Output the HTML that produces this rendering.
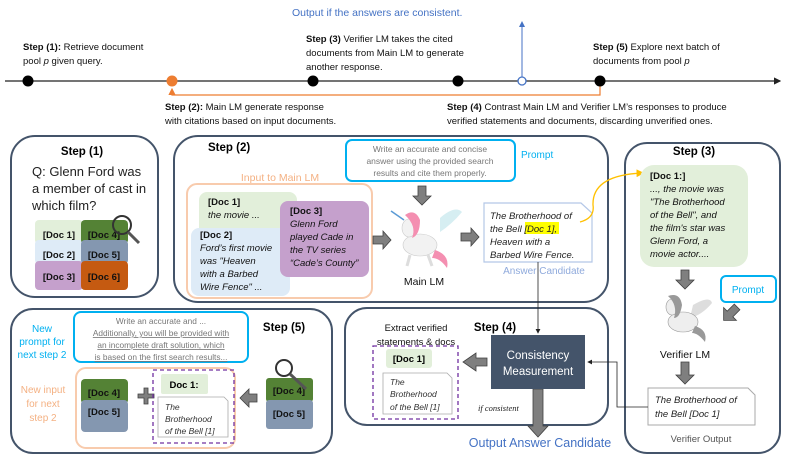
<!DOCTYPE html>
<html><head><meta charset="utf-8"><style>
html,body{margin:0;padding:0;background:#fff;}
svg{display:block;font-family:"Liberation Sans",sans-serif;}
.b{font-weight:bold}
.i{font-style:italic}
</style></head><body>
<svg width="789" height="461" viewBox="0 0 789 461" xmlns="http://www.w3.org/2000/svg">
<defs>
<marker id="ak" markerWidth="6" markerHeight="6" refX="5" refY="3" orient="auto"><path d="M0,0 L6,3 L0,6 z" fill="#222"/></marker>
<marker id="ab" markerWidth="6" markerHeight="6" refX="5" refY="3" orient="auto"><path d="M0,0 L6,3 L0,6 z" fill="#4472c4"/></marker>
<marker id="ao" markerWidth="6" markerHeight="6" refX="5" refY="3" orient="auto"><path d="M0,0 L6,3 L0,6 z" fill="#ed7d31"/></marker>
<marker id="ay" markerWidth="6" markerHeight="6" refX="5" refY="3" orient="auto"><path d="M0,0 L6,3 L0,6 z" fill="#ffc000"/></marker>
</defs>

<!-- timeline -->
<line x1="5" y1="81" x2="780" y2="81" stroke="#222" stroke-width="1.2" marker-end="url(#ak)"/>
<polyline points="600,81 600,95 172,95 172,89" fill="none" stroke="#ed7d31" stroke-width="1.2" marker-end="url(#ao)"/>
<line x1="522" y1="77" x2="522" y2="22" stroke="#4472c4" stroke-width="1" marker-end="url(#ab)"/>
<circle cx="28" cy="81" r="5.5" fill="#000"/>
<circle cx="172" cy="81" r="5.5" fill="#ed7d31"/>
<circle cx="313" cy="81" r="5.5" fill="#000"/>
<circle cx="458" cy="81" r="5.5" fill="#000"/>
<circle cx="522" cy="81" r="4" fill="#fff" stroke="#4472c4" stroke-width="1.3"/>
<circle cx="600" cy="81" r="5.5" fill="#000"/>
<text x="292" y="16" font-size="10.5" fill="#4472c4">Output if the answers are consistent.</text>
<g font-size="9.5" fill="#111">
<text x="23" y="50"><tspan class="b">Step (1):</tspan> Retrieve document</text>
<text x="23" y="64">pool <tspan class="i">p</tspan> given query.</text>
<text x="306" y="42"><tspan class="b">Step (3)</tspan> Verifier LM takes the cited</text>
<text x="306" y="56">documents from Main LM to generate</text>
<text x="306" y="70">another response.</text>
<text x="593" y="50"><tspan class="b">Step (5)</tspan> Explore next batch of</text>
<text x="593" y="64">documents from pool <tspan class="i">p</tspan></text>
<text x="165" y="110"><tspan class="b">Step (2):</tspan> Main LM generate response</text>
<text x="165" y="124">with citations based on input documents.</text>
<text x="447" y="110"><tspan class="b">Step (4)</tspan> Contrast Main LM and Verifier LM’s responses to produce</text>
<text x="447" y="124">verified statements and documents, discarding unverified ones.</text>
</g>

<!-- panels -->
<g fill="none" stroke="#44546a" stroke-width="2">
<rect x="11" y="136" width="147" height="161" rx="24"/>
<rect x="174" y="136" width="434" height="166" rx="24"/>
<rect x="625" y="143" width="155" height="310" rx="22"/>
<rect x="11" y="309" width="321" height="144" rx="22"/>
<rect x="345" y="308" width="263" height="117" rx="22"/>
</g>

<!-- step1 -->
<text x="82" y="155" font-size="11.5" class="b" text-anchor="middle">Step (1)</text>
<g font-size="13" fill="#222">
<text x="32" y="176">Q: Glenn Ford was</text>
<text x="32" y="193">a member of cast in</text>
<text x="32" y="210">which film?</text>
</g>
<rect x="35" y="220" width="48" height="24" rx="4" fill="#e2efda"/>
<rect x="35" y="240" width="48" height="24" rx="4" fill="#deebf7"/>
<rect x="35" y="261" width="48" height="29" rx="4" fill="#c5a0cc"/>
<rect x="81" y="220" width="47" height="24" rx="4" fill="#548235"/>
<rect x="81" y="240" width="47" height="24" rx="4" fill="#8497b0"/>
<rect x="81" y="261" width="47" height="29" rx="4" fill="#c55a11"/>
<g font-size="9.5" class="b" fill="#111" text-anchor="middle">
<text x="59" y="238">[Doc 1]</text><text x="59" y="258">[Doc 2]</text><text x="59" y="280">[Doc 3]</text>
<text x="104" y="238">[Doc 4]</text><text x="104" y="258">[Doc 5]</text><text x="104" y="280">[Doc 6]</text>
</g>
<circle cx="122" cy="225" r="9" fill="none" stroke="#333" stroke-width="2"/>
<line x1="128" y1="232" x2="139" y2="243" stroke="#555" stroke-width="3"/>

<!-- step2 -->
<text x="208" y="151" font-size="11.5" class="b">Step (2)</text>
<rect x="187" y="184" width="185" height="114" rx="10" fill="none" stroke="#f8cbad" stroke-width="2"/>
<text x="280" y="181" font-size="10.5" fill="#f4b183" text-anchor="middle">Input to Main LM</text>
<rect x="199" y="192" width="98" height="50" rx="8" fill="#e2efda"/>
<rect x="191" y="228" width="99" height="68" rx="8" fill="#deebf7"/>
<rect x="280" y="201" width="89" height="76" rx="8" fill="#c5a0cc"/>
<g font-size="9.5" fill="#111">
<text x="208" y="205" class="b">[Doc 1]</text>
<text x="208" y="218" class="i">the movie ...</text>
<text x="200" y="238" class="b">[Doc 2]</text>
<text x="200" y="251" class="i">Ford’s first movie</text>
<text x="200" y="264" class="i">was "Heaven</text>
<text x="200" y="277" class="i">with a Barbed</text>
<text x="200" y="290" class="i">Wire Fence" ...</text>
<text x="290" y="214" class="b">[Doc 3]</text>
<text x="290" y="227" class="i">Glenn Ford</text>
<text x="290" y="240" class="i">played Cade in</text>
<text x="290" y="253" class="i">the TV series</text>
<text x="290" y="266" class="i">“Cade’s County”</text>
</g>
<rect x="346" y="140" width="169" height="41" rx="6" fill="#fff" stroke="#00b0f0" stroke-width="2"/>
<g font-size="8.5" fill="#777" text-anchor="middle">
<text x="430" y="152">Write an accurate and concise</text>
<text x="430" y="164">answer using the provided search</text>
<text x="430" y="176">results and cite them properly.</text>
</g>
<text x="521" y="158" font-size="10" fill="#00b0f0">Prompt</text>
<!-- arrows -->
<g fill="#7f7f7f" stroke="#404040" stroke-width="0.8">
<polygon points="418,186 426,186 426,196 431,196 422,205 413,196 418,196"/>
<polygon points="373,236 383,236 383,231 391,240 383,249 383,244 373,244"/>
<polygon points="461,233 471,233 471,228 479,237 471,246 471,241 461,241"/>
</g>
<!-- unicorn -->
<g>
<path d="M440,218 Q455,205 462,212 Q452,224 440,232 Z" fill="#d6eef2"/>
<ellipse cx="420" cy="245" rx="17" ry="11" fill="#f2f2f2" stroke="#ccc" stroke-width="0.6"/>
<ellipse cx="409" cy="228" rx="7" ry="9" fill="#f2f2f2" stroke="#ccc" stroke-width="0.6"/>
<path d="M405,215 Q415,208 420,220 Q420,235 412,238 Q417,226 405,215 Z" fill="#f48fb1"/>
<path d="M435,250 Q450,255 447,268 Q440,258 432,258 Z" fill="#f48fb1"/>
<line x1="404" y1="220" x2="391" y2="211" stroke="#5b9bd5" stroke-width="1.5"/>
<line x1="410" y1="255" x2="407" y2="266" stroke="#ddd" stroke-width="3"/>
<line x1="428" y1="255" x2="432" y2="266" stroke="#ddd" stroke-width="3"/>
</g>
<text x="424" y="285" font-size="10.5" fill="#111" text-anchor="middle">Main LM</text>
<path d="M484,203 L581,203 L592,213 L592,262 L484,262 Z" fill="#fff" stroke="#b4c7e7" stroke-width="1.2"/>
<rect x="525" y="222" width="34" height="12" fill="#ffff00"/>
<g font-size="9.5" fill="#222" class="i">
<text x="490" y="219">The Brotherhood of</text>
<text x="490" y="232">the Bell [Doc 1],</text>
<text x="490" y="245">Heaven with a</text>
<text x="490" y="258">Barbed Wire Fence.</text>
</g>
<text x="544" y="274" font-size="10" fill="#8faadc" text-anchor="middle">Answer Candidate</text>
<path d="M580,222 Q595,218 593,205 Q592,175 643,173" fill="none" stroke="#ffc000" stroke-width="1.3" marker-end="url(#ay)"/>
<line x1="538" y1="262" x2="538" y2="333" stroke="#222" stroke-width="0.8" marker-end="url(#ak)"/>

<!-- step3 -->
<text x="694" y="155" font-size="11.5" class="b" text-anchor="middle">Step (3)</text>
<rect x="640" y="165" width="108" height="102" rx="14" fill="#e2efda"/>
<g font-size="9.5" fill="#111">
<text x="650" y="179" class="b">[Doc 1:]</text>
<text x="650" y="192" class="i">..., the movie was</text>
<text x="650" y="205" class="i">"The Brotherhood</text>
<text x="650" y="218" class="i">of the Bell", and</text>
<text x="650" y="231" class="i">the film's star was</text>
<text x="650" y="244" class="i">Glenn Ford, a</text>
<text x="650" y="257" class="i">movie actor....</text>
</g>
<g fill="#7f7f7f" stroke="#404040" stroke-width="0.8">
<polygon points="681,270 689,270 689,280 694,280 685,289 676,280 681,280"/>
<polygon points="681,362 689,362 689,375 694,375 685,384 676,375 681,375"/>
<polygon transform="translate(730,314) rotate(-45)" points="10,-4 0,-4 0,-9 -9,0 0,9 0,4 10,4"/>
</g>
<rect x="721" y="276" width="55" height="26" rx="5" fill="#fff" stroke="#00b0f0" stroke-width="2"/>
<text x="748" y="293" font-size="10" fill="#00b0f0" text-anchor="middle">Prompt</text>
<g>
<path d="M693,305 Q710,295 712,303 Q702,315 690,318 Z" fill="#ddd"/>
<ellipse cx="683" cy="322" rx="15" ry="10" fill="#eee" stroke="#999" stroke-width="0.6"/>
<ellipse cx="672" cy="307" rx="6" ry="8" fill="#eee" stroke="#999" stroke-width="0.6"/>
<path d="M668,296 Q680,292 682,305 Q680,318 674,318 Q678,305 668,296 Z" fill="#999"/>
<path d="M695,326 Q708,330 705,342 Q698,333 692,333 Z" fill="#999"/>
</g>
<text x="685" y="358" font-size="10.5" fill="#111" text-anchor="middle">Verifier LM</text>
<path d="M648,388 L748,388 L755,395 L755,425 L648,425 Z" fill="#fff" stroke="#aaa" stroke-width="1"/>
<g font-size="9.5" fill="#222" class="i">
<text x="655" y="403">The Brotherhood of</text>
<text x="655" y="417">the Bell [Doc 1]</text>
</g>
<text x="701" y="442" font-size="9.5" fill="#555" text-anchor="middle">Verifier Output</text>
<polyline points="648,407 617,407 617,362 588,362" fill="none" stroke="#222" stroke-width="0.8" marker-end="url(#ak)"/>

<!-- step4 -->
<g font-size="9.5" fill="#111" text-anchor="middle">
<text x="416" y="331">Extract verified</text>
<text x="416" y="345">statements &amp; docs</text>
</g>
<text x="495" y="331" font-size="11.5" class="b" text-anchor="middle">Step (4)</text>
<rect x="373" y="346" width="85" height="73" fill="none" stroke="#7030a0" stroke-width="1.3" stroke-dasharray="4,3"/>
<rect x="386" y="349" width="46" height="19" rx="3" fill="#e2efda"/>
<text x="409" y="362" font-size="9.5" class="b" text-anchor="middle">[Doc 1]</text>
<path d="M383,373 L447,373 L452,378 L452,414 L383,414 Z" fill="#fff" stroke="#aaa" stroke-width="0.8"/>
<g font-size="8.5" fill="#333" class="i">
<text x="390" y="385">The</text><text x="390" y="397">Brotherhood</text><text x="390" y="410">of the Bell [1]</text>
</g>
<g fill="#7f7f7f" stroke="#404040" stroke-width="0.8">
<polygon points="487,358 476,358 476,353 463,362 476,371 476,366 487,366"/>
<polygon points="533,389 543,389 543,426 548,426 538,437 528,426 533,426"/>
<polygon points="257,394 249,394 249,389 240,398 249,407 249,402 257,402"/>
</g>
<rect x="491" y="335" width="94" height="54" fill="#44546a"/>
<g font-size="11.5" fill="#fff" text-anchor="middle">
<text x="538" y="359">Consistency</text>
<text x="538" y="375">Measurement</text>
</g>
<text x="478" y="411" font-size="8.5" class="i" font-family="Liberation Serif,serif" fill="#222">if consistent</text>
<text x="540" y="447" font-size="12.5" fill="#4472c4" text-anchor="middle">Output Answer Candidate</text>

<!-- step5 -->
<g font-size="10" fill="#00b0f0" text-anchor="middle">
<text x="42" y="332">New</text><text x="42" y="345">prompt for</text><text x="42" y="358">next step 2</text>
</g>
<g font-size="10" fill="#f4b183" text-anchor="middle">
<text x="43" y="393">New input</text><text x="43" y="407">for next</text><text x="43" y="421">step 2</text>
</g>
<rect x="74" y="312" width="174" height="50" rx="7" fill="#fff" stroke="#00b0f0" stroke-width="2"/>
<g font-size="8.3" fill="#777" text-anchor="middle">
<text x="161" y="324">Write an accurate and ...</text>
<text x="161" y="336" text-decoration="underline">Additionally, you will be provided with</text>
<text x="161" y="348" text-decoration="underline">an incomplete draft solution, which</text>
<text x="161" y="360" text-decoration="underline">is based on the first search results...</text>
</g>
<text x="284" y="331" font-size="11.5" class="b" text-anchor="middle">Step (5)</text>
<rect x="76" y="368" width="159" height="80" rx="10" fill="none" stroke="#f8cbad" stroke-width="2"/>
<rect x="81" y="379" width="47" height="25" rx="4" fill="#548235"/>
<rect x="81" y="400" width="47" height="32" rx="4" fill="#8497b0"/>
<rect x="266" y="378" width="47" height="24" rx="3" fill="#548235"/>
<rect x="266" y="400" width="47" height="29" rx="3" fill="#8497b0"/>
<g font-size="9.5" class="b" fill="#111" text-anchor="middle">
<text x="104" y="396">[Doc 4]</text><text x="104" y="415">[Doc 5]</text>
<text x="289" y="394">[Doc 4]</text><text x="289" y="417">[Doc 5]</text>
</g>
<path d="M138,394 h6 v-6 h4 v6 h6 v4 h-6 v6 h-4 v-6 h-6 z" fill="#7f7f7f" stroke="#404040" stroke-width="0.8"/>
<circle cx="284" cy="368" r="8" fill="none" stroke="#333" stroke-width="2"/>
<line x1="290" y1="374" x2="306" y2="389" stroke="#555" stroke-width="3"/>
<rect x="153" y="370" width="81" height="73" fill="none" stroke="#7030a0" stroke-width="1.3" stroke-dasharray="4,3"/>
<rect x="161" y="374" width="47" height="20" rx="2" fill="#e2efda"/>
<text x="184" y="388" font-size="9.5" class="b" text-anchor="middle">Doc 1:</text>
<path d="M158,397 L224,397 L228,401 L228,437 L158,437 Z" fill="#fff" stroke="#aaa" stroke-width="0.8"/>
<g font-size="8.5" fill="#333" class="i">
<text x="165" y="410">The</text><text x="165" y="422">Brotherhood</text><text x="165" y="434">of the Bell [1]</text>
</g>
</svg>
</body></html>
